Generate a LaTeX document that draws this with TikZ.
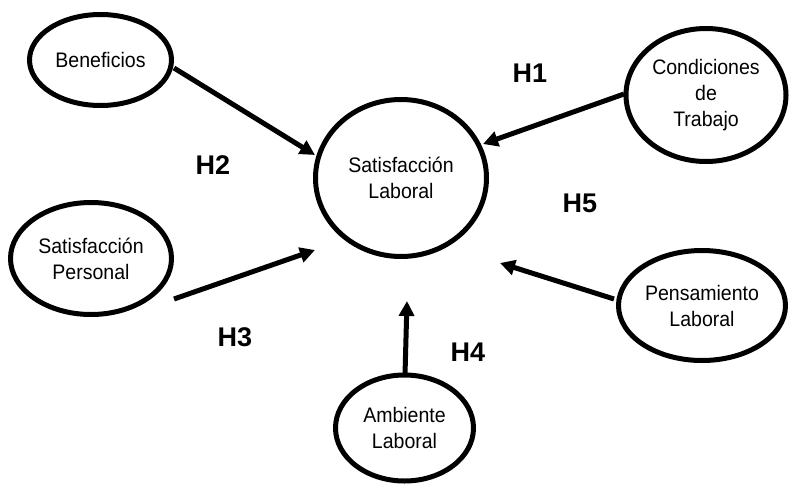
\documentclass[tikz,border=0pt]{standalone}
\usepackage{fontspec}
\setmainfont{Liberation Sans}
\newfontfamily\nodefont[FakeStretch=0.93]{Liberation Sans}
\usetikzlibrary{shapes.geometric,arrows.meta}
\begin{document}
\begin{tikzpicture}[x=1pt,y=-1pt,
  var/.style={draw=black,line width=5pt,ellipse,inner sep=0pt,align=center,
    font=\nodefont\fontsize{21}{26}\selectfont},
  arr/.style={line width=5pt,-{Triangle[length=15pt,width=15pt]}},
  hyp/.style={font=\bfseries\fontsize{27}{30}\selectfont,inner sep=0pt}]
\useasboundingbox (0,0) rectangle (790,485);
% variables
\node[var,minimum width=142pt,minimum height=91pt] (ben) at (100.5,60) {Beneficios};
\node[var,minimum width=160pt,minimum height=133pt] (cond) at (706,95) {Condiciones\\de\\Trabajo};
\node[var,minimum width=171pt,minimum height=157pt] (cen) at (401,178) {Satisfacción\\Laboral};
\node[var,minimum width=161pt,minimum height=112pt] (pers) at (91,258.5) {Satisfacción\\Personal};
\node[var,minimum width=167pt,minimum height=110pt] (pens) at (702,305.5) {Pensamiento\\Laboral};
\node[var,minimum width=138pt,minimum height=106pt] (amb) at (404.5,428) {Ambiente\\Laboral};
% arrow end points
\coordinate (b1) at (174,68);   \coordinate (b2) at (315,155);
\coordinate (c1) at (624,94);   \coordinate (c2) at (483,144);
\coordinate (p1) at (174,299);  \coordinate (p2) at (315,250);
\coordinate (q1) at (614,299);  \coordinate (q2) at (500,263);
\coordinate (a1) at (405,375);  \coordinate (a2) at (407,301);
\draw[arr] (b1) -- (b2);
\draw[arr] (c1) -- (c2);
\draw[arr] (p1) -- (p2);
\draw[arr] (q1) -- (q2);
\draw[arr] (a1) -- (a2);
% hypotheses
\node[hyp] (h1) at (530,73) {H1};
\node[hyp] (h2) at (213,165) {H2};
\node[hyp] (h3) at (235,337) {H3};
\node[hyp] (h4) at (468,352) {H4};
\node[hyp] (h5) at (580,203) {H5};
\end{tikzpicture}
\end{document}
